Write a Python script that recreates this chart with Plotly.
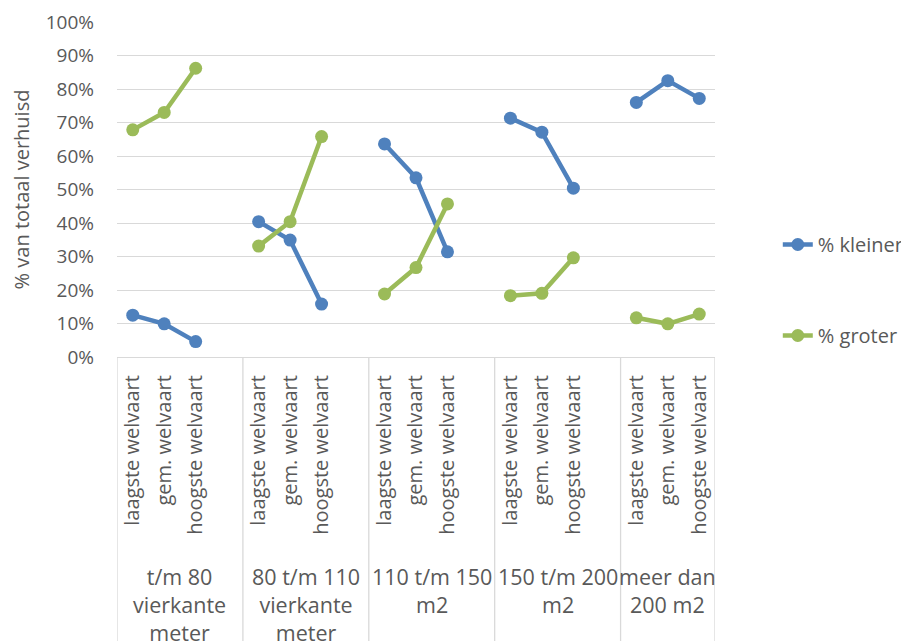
import plotly.graph_objects as go

# ---- data ----
group_labels = ["t/m 80<br>vierkante<br>meter", "80 t/m 110<br>vierkante<br>meter",
                "110 t/m 150<br>m2", "150 t/m 200<br>m2", "meer dan<br>200 m2"]
subcats = ["laagste welvaart", "gem. welvaart", "hoogste welvaart"]
kleiner = [12.5, 9.9, 4.6, 40.4, 34.9, 15.8, 63.6, 53.5, 31.4, 71.3, 67.1, 50.4, 76.0, 82.5, 77.2]
groter = [67.8, 73.0, 86.2, 33.1, 40.4, 65.8, 18.8, 26.7, 45.7, 18.3, 19.0, 29.6, 11.7, 9.9, 12.8]
y_ticks = list(range(0, 101, 10))
y_ticktext = [f"{v}%" for v in y_ticks]

# ---- layout helpers ----
NG = len(group_labels)
NS = len(subcats)
SLOTS = NS + 1  # 3 categories + one empty slot between groups (as in the Excel chart)
FONT = "Open Sans"
TXT = "#595959"
GRID = "#d9d9d9"

def broken_series(values):
    xs, ys = [], []
    for g in range(NG):
        for s in range(NS):
            xs.append(g * SLOTS + s)
            ys.append(values[g * NS + s])
        if g < NG - 1:
            xs.append(g * SLOTS + NS)
            ys.append(None)
    return xs, ys

fig = go.Figure()
for name, vals, col in [("% kleiner", kleiner, "#4f81bd"), ("% groter", groter, "#9bbb59")]:
    xs, ys = broken_series(vals)
    fig.add_trace(go.Scatter(x=xs, y=ys, name=name, mode="lines+markers",
                             line=dict(color=col, width=4.5),
                             marker=dict(color=col, size=13),
                             connectgaps=False, legendgroup=name))

tickvals = [g * SLOTS + s for g in range(NG) for s in range(NS)]
ticktext = [subcats[s] for g in range(NG) for s in range(NS)]

x_max = (NG - 1) * SLOTS + NS - 0.5
bounds = [g * SLOTS - 0.5 for g in range(NG)] + [x_max]
shapes = [dict(type="line", xref="x", yref="paper", x0=xb, x1=xb, y0=0, y1=-0.9,
               line=dict(color=GRID, width=1.3)) for xb in bounds]

annotations = []
for g, lab in enumerate(group_labels):
    annotations.append(dict(x=(bounds[g] + bounds[g + 1]) / 2, y=-0.605, xref="x", yref="paper",
                            text=lab, showarrow=False, xanchor="center", yanchor="top",
                            font=dict(family=FONT, size=21.5, color=TXT)))

fig.update_layout(
    width=909, height=641,
    margin=dict(l=109, r=202, t=14, b=292, autoexpand=False),
    paper_bgcolor="white", plot_bgcolor="white",
    font=dict(family=FONT, color=TXT, size=19),
    xaxis=dict(range=[-0.5, x_max], tickvals=tickvals, ticktext=ticktext,
               tickangle=-90, showgrid=False, zeroline=False,
               showline=True, linecolor=GRID, linewidth=1.3,
               ticks="", ticklabelstandoff=9,
               tickfont=dict(family=FONT, size=20, color=TXT)),
    yaxis=dict(range=[0, 100], tickvals=y_ticks, ticktext=y_ticktext,
               showgrid=True, gridcolor=GRID, gridwidth=1.3, zeroline=False,
               ticks="", ticklabelstandoff=22,
               tickfont=dict(family=FONT, size=19, color=TXT),
               title=dict(text="% van totaal verhuisd", standoff=13,
                          font=dict(family=FONT, size=20, color=TXT))),
    legend=dict(x=1.105, y=0.2, xanchor="left", yanchor="middle",
                font=dict(family=FONT, size=20, color=TXT),
                tracegroupgap=62, traceorder="grouped", bgcolor="rgba(0,0,0,0)"),
    shapes=shapes, annotations=annotations,
)

fig.write_html("out.html")
